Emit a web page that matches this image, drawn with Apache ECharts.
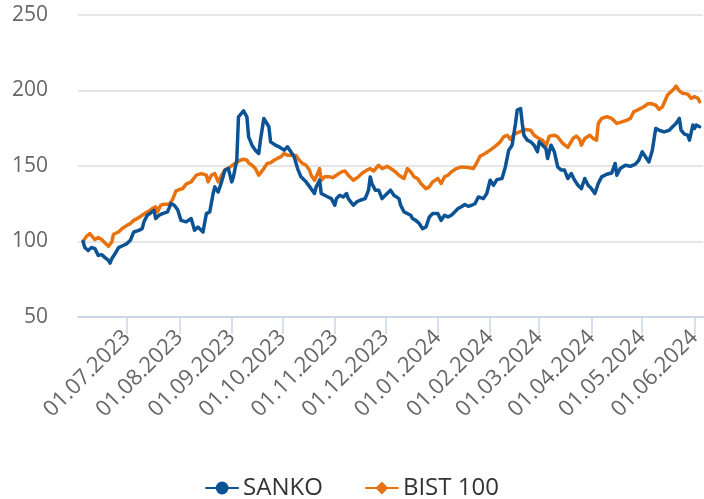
<!DOCTYPE html>
<html>
<head>
<meta charset="utf-8">
<script src="https://cdn.jsdelivr.net/npm/echarts@6/dist/echarts.min.js"></script>
<style>
  html, body { margin: 0; padding: 0; background: #fff; }
  #chart { width: 704px; height: 499px; }
</style>
</head>
<body>
<div id="chart"></div>
<script>
// SANKO, rebased to 100
var sankoDates = ['2023-06-05','2023-06-06','2023-06-08','2023-06-10','2023-06-12','2023-06-14','2023-06-16','2023-06-18','2023-06-20','2023-06-21',
  '2023-06-22','2023-06-24','2023-06-26','2023-06-29','2023-07-01','2023-07-03','2023-07-05','2023-07-08','2023-07-10','2023-07-11',
  '2023-07-13','2023-07-15','2023-07-17','2023-07-18','2023-07-20','2023-07-22','2023-07-25','2023-07-27','2023-07-29','2023-07-31',
  '2023-08-02','2023-08-05','2023-08-08','2023-08-10','2023-08-12','2023-08-15','2023-08-17','2023-08-19','2023-08-21','2023-08-22',
  '2023-08-24','2023-08-26','2023-08-28','2023-08-30','2023-09-01','2023-09-02','2023-09-04','2023-09-05','2023-09-06','2023-09-08',
  '2023-09-10','2023-09-11','2023-09-13','2023-09-15','2023-09-17','2023-09-18','2023-09-20','2023-09-21','2023-09-23','2023-09-24',
  '2023-09-27','2023-09-29','2023-10-02','2023-10-04','2023-10-06','2023-10-08','2023-10-10','2023-10-12','2023-10-15','2023-10-16',
  '2023-10-18','2023-10-20','2023-10-21','2023-10-23','2023-10-24','2023-10-26','2023-10-28','2023-10-30','2023-11-01','2023-11-02',
  '2023-11-04','2023-11-06','2023-11-08','2023-11-09','2023-11-12','2023-11-14','2023-11-16','2023-11-19','2023-11-21','2023-11-22',
  '2023-11-23','2023-11-25','2023-11-27','2023-11-29','2023-12-02','2023-12-04','2023-12-06','2023-12-09','2023-12-10','2023-12-12',
  '2023-12-13','2023-12-16','2023-12-17','2023-12-19','2023-12-21','2023-12-23','2023-12-25','2023-12-27','2023-12-29','2024-01-01',
  '2024-01-03','2024-01-05','2024-01-07','2024-01-09','2024-01-11','2024-01-13','2024-01-15','2024-01-17','2024-01-19','2024-01-21',
  '2024-01-23','2024-01-25','2024-01-28','2024-01-30','2024-02-01','2024-02-03','2024-02-05','2024-02-08','2024-02-10','2024-02-12',
  '2024-02-14','2024-02-16','2024-02-17','2024-02-19','2024-02-20','2024-02-21','2024-02-23','2024-02-25','2024-02-27','2024-02-29',
  '2024-03-01','2024-03-03','2024-03-05','2024-03-06','2024-03-08','2024-03-10','2024-03-12','2024-03-14','2024-03-16','2024-03-18',
  '2024-03-20','2024-03-22','2024-03-24','2024-03-26','2024-03-28','2024-03-30','2024-04-01','2024-04-03','2024-04-05','2024-04-07',
  '2024-04-10','2024-04-13','2024-04-15','2024-04-16','2024-04-18','2024-04-21','2024-04-24','2024-04-27','2024-04-29','2024-05-01',
  '2024-05-03','2024-05-05','2024-05-07','2024-05-08','2024-05-09','2024-05-11','2024-05-14','2024-05-17','2024-05-19','2024-05-21',
  '2024-05-23','2024-05-24','2024-05-26','2024-05-28','2024-05-29','2024-05-31','2024-06-01','2024-06-02','2024-06-04'];
var sankoValues = [100,96,94,96,95.3,90.8,91.3,89.3,87.5,85.7,
  88.6,92,96,97.5,98.6,100.8,106.3,107.4,108.5,112.9,
  117.4,118.9,120.7,115.2,117.4,118.5,119.6,125.1,124,121,
  114,113,115.2,107.4,109.6,106.3,118.5,119.6,131.8,136.2,
  132.8,139.5,147.3,148.3,139.5,142.8,153.8,182.6,183.7,186.5,
  182.6,169.3,163.8,160.5,158.3,167.1,181.5,182.6,176,166,
  163.8,162.7,160.5,162.7,159.4,156,148.3,142.8,139.5,139.5,
  135,131.8,136.2,140.6,131.8,130.6,129.5,128.4,124,128.4,
  130.6,129.5,131.8,128.4,124,126.2,127.3,128.4,134,142.8,
  138.4,134,134,128.4,131.8,134,130.6,128.4,124,119.6,
  119.6,117.4,115.2,114,111.9,108.5,109.6,116.3,118.5,118.5,
  114,117.4,116.3,117.4,119.6,121.8,123,124.5,123.3,124,
  125,129.5,128.4,131.8,140.6,137.3,141,141.7,149.4,160.5,
  163.8,178.2,187,188.1,178.2,170.4,167.1,166,163.8,159.4,
  166,163.8,161.6,155,163.8,159.4,149.4,147.3,147.3,141.7,
  145,140.6,137.3,135,141.7,137.3,135,131.8,138.4,142.8,
  144.5,145.4,151.7,143.9,148.3,150.5,149.8,151.2,153.8,159.4,
  156,152.7,160.5,161.6,174.9,173.7,172.6,173.7,176,178.2,
  181.5,173.7,171.1,170.4,167.1,177.1,174.9,177.1,176];

// BIST 100, rebased to 100
var bistDates = ['2023-06-05','2023-06-07','2023-06-09','2023-06-10','2023-06-12','2023-06-14','2023-06-16','2023-06-18','2023-06-20','2023-06-22',
  '2023-06-23','2023-06-26','2023-06-28','2023-07-01','2023-07-03','2023-07-05','2023-07-08','2023-07-10','2023-07-12','2023-07-14',
  '2023-07-16','2023-07-18','2023-07-19','2023-07-21','2023-07-23','2023-07-26','2023-07-28','2023-07-30','2023-08-01','2023-08-03',
  '2023-08-05','2023-08-08','2023-08-11','2023-08-14','2023-08-17','2023-08-18','2023-08-20','2023-08-22','2023-08-24','2023-08-26',
  '2023-08-28','2023-08-31','2023-09-03','2023-09-06','2023-09-08','2023-09-10','2023-09-11','2023-09-13','2023-09-15','2023-09-17',
  '2023-09-18','2023-09-20','2023-09-22','2023-09-24','2023-09-26','2023-09-28','2023-09-30','2023-10-02','2023-10-04','2023-10-07',
  '2023-10-09','2023-10-11','2023-10-13','2023-10-15','2023-10-17','2023-10-18','2023-10-20','2023-10-21','2023-10-23','2023-10-24',
  '2023-10-26','2023-10-29','2023-10-31','2023-11-02','2023-11-05','2023-11-07','2023-11-09','2023-11-12','2023-11-15','2023-11-17',
  '2023-11-20','2023-11-22','2023-11-24','2023-11-27','2023-11-29','2023-12-02','2023-12-05','2023-12-07','2023-12-09','2023-12-12',
  '2023-12-14','2023-12-16','2023-12-18','2023-12-20','2023-12-22','2023-12-25','2023-12-27','2023-12-29','2024-01-01','2024-01-03',
  '2024-01-05','2024-01-07','2024-01-09','2024-01-12','2024-01-15','2024-01-19','2024-01-22','2024-01-24','2024-01-26','2024-01-29',
  '2024-02-01','2024-02-04','2024-02-07','2024-02-09','2024-02-11','2024-02-13','2024-02-15','2024-02-17','2024-02-20','2024-02-22',
  '2024-02-25','2024-02-27','2024-02-29','2024-03-03','2024-03-05','2024-03-07','2024-03-10','2024-03-12','2024-03-15','2024-03-18',
  '2024-03-21','2024-03-23','2024-03-25','2024-03-26','2024-03-28','2024-03-31','2024-04-02','2024-04-04','2024-04-05','2024-04-07',
  '2024-04-10','2024-04-13','2024-04-16','2024-04-19','2024-04-22','2024-04-24','2024-04-26','2024-04-29','2024-05-02','2024-05-04',
  '2024-05-06','2024-05-09','2024-05-11','2024-05-13','2024-05-16','2024-05-18','2024-05-20','2024-05-21','2024-05-23','2024-05-25',
  '2024-05-28','2024-05-30','2024-06-01','2024-06-03','2024-06-04'];
var bistValues = [100,103.4,105.2,104.8,101.3,102.6,101.3,99,96.8,99.7,
  104.8,106.3,108.5,110.7,111.9,114,115.8,117.4,118.9,120.2,
  121.8,123,119.6,124,124.7,124.7,127.8,133.5,134.4,135,
  138,139.5,143.9,145,143.9,139.5,143.9,145,139.5,143.9,
  147.3,149.4,151.7,153.8,154.5,153.8,152.1,150.5,148.3,143.9,
  144.6,148.3,151.7,152.1,153.8,155,156,158.3,157.2,157.2,
  157,153.8,151.7,150.5,147.3,143.9,140.6,142.8,148.3,140.6,
  142.8,142.8,142.4,143.9,146.1,146.7,143.9,140.6,142.8,145,
  147.3,148.3,146.7,150.5,148.3,149.8,147.7,146.1,143.9,141.7,
  148.3,146.1,142.8,141.7,138.4,135,136.2,139.5,141.7,138.4,
  142.8,143.9,146.1,148.3,149.4,149,148.3,152,156.5,158.3,
  160.5,163,166,169.3,170.4,167.6,171.1,172,173.3,174.2,
  173.7,170.4,168.9,167.1,163.1,169.8,170.4,169.3,164.9,162.3,
  168.2,169.8,167.6,163.8,168.2,170.4,168.2,167.1,178.2,181.5,
  182.6,181.5,178.2,179.2,180.4,181.5,185.9,187.5,189.2,191,
  191.4,190.3,187.5,189.2,197,199.2,201.4,202.9,199.8,198.1,
  197.6,194.8,195.9,194.8,192.5];

var yTicks = [50, 100, 150, 200, 250];

function pairs(dates, values) {
  return dates.map(function (d, i) { return [d, values[i]]; });
}

var chart = echarts.init(document.getElementById('chart'));
var option = {
  animation: false,
  textStyle: { fontFamily: 'Open Sans' },
  grid: { left: 78, right: 1, top: 15, bottom: 182, containLabel: false, outerBoundsMode: 'none' },
  legend: {
    top: 471,
    left: 'center',
    itemWidth: 32,
    itemHeight: 16,
    itemGap: 42,
    textStyle: { fontSize: 24, color: '#333', fontFamily: 'Open Sans' },
    data: ['SANKO', 'BIST 100']
  },
  xAxis: {
    type: 'time',
    min: '2023-06-02',
    max: '2024-06-06',
    splitNumber: 12,
    minInterval: 28 * 86400000,
    maxInterval: 31 * 86400000,
    axisLine: { lineStyle: { color: '#ccd6eb', width: 2 } },
    axisTick: { show: true, length: 17, lineStyle: { color: '#ccd6eb', width: 1.5 } },
    splitLine: { show: false },
    axisLabel: {
      rotate: 45,
      margin: 17,
      fontSize: 22,
      color: '#666',
      showMinLabel: false,
      showMaxLabel: false,
      formatter: function (v) {
        return echarts.time.format(v, '{dd}.{MM}.{yyyy}', false);
      }
    }
  },
  yAxis: {
    type: 'value',
    min: yTicks[0],
    max: yTicks[yTicks.length - 1],
    interval: 50,
    axisLine: { show: false },
    axisTick: { show: false },
    splitLine: { lineStyle: { color: '#e6e6e6', width: 2 } },
    axisLabel: { fontSize: 21, color: '#666', margin: 30 }
  },
  series: [
    {
      name: 'SANKO',
      type: 'line',
      data: pairs(sankoDates, sankoValues),
      color: '#0b5394',
      showSymbol: false,
      symbol: 'circle',
      lineStyle: { width: 3.5, join: 'round', cap: 'round' },
      z: 3
    },
    {
      name: 'BIST 100',
      type: 'line',
      data: pairs(bistDates, bistValues),
      color: '#e8730e',
      showSymbol: false,
      symbol: 'diamond',
      lineStyle: { width: 3.5, join: 'round', cap: 'round' },
      z: 2
    }
  ]
};
chart.setOption(option);
</script>
</body>
</html>
